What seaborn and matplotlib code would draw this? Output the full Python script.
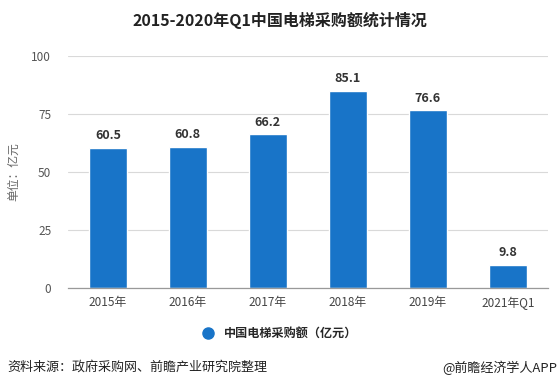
import numpy as np
import pandas as pd
import matplotlib
matplotlib.use("Agg")
import matplotlib.pyplot as plt
import seaborn as sns
from matplotlib.lines import Line2D

categories = ["2015年", "2016年", "2017年", "2018年", "2019年", "2021年Q1"]
values     = [60.5, 60.8, 66.2, 85.1, 76.6, 9.8]
yticks     = [0, 25, 50, 75, 100]
series     = "中国电梯采购额（亿元）"
BAR_COLOR  = "#1874C8"

sns.set_style("white")
plt.rcParams["font.family"] = ["Noto Sans CJK SC", "DejaVu Sans"]

df = pd.DataFrame({"year": categories, "value": values})

fig = plt.figure(figsize=(5.59, 3.87), dpi=100)
ax = fig.add_axes([0.1216, 0.2558, 0.8584, 0.5992])
sns.barplot(data=df, x="year", y="value", color=BAR_COLOR, width=0.475,
            saturation=1, ax=ax)

ax.set_xlim(-0.5, len(categories) - 0.5)
ax.set_ylim(0, 100)
ax.set_yticks(yticks)
ax.yaxis.grid(True, color="#d9d9d9", linewidth=0.8)
ax.set_axisbelow(True)
for s in ["top", "right", "left"]:
    ax.spines[s].set_visible(False)
ax.spines["bottom"].set_color("#999999")
ax.spines["bottom"].set_linewidth(0.9)
ax.tick_params(axis="x", length=4, color="#999999", labelsize=8.5,
               labelcolor="#444444", pad=2)
ax.tick_params(axis="y", length=0, labelsize=8.5, labelcolor="#555555", pad=12)
ax.set_xlabel("")
ax.set_ylabel("单位：亿元", fontsize=8.5, color="#666666", labelpad=8)

for i, v in enumerate(values):
    ax.text(i, v + 2.5, f"{v:.1f}", ha="center", va="bottom",
            fontsize=9, fontweight="bold", color="#333333")

fig.text(0.5, 0.948, "2015-2020年Q1中国电梯采购额统计情况", ha="center", va="center",
         fontsize=11.5, fontweight="bold", color="#222222")

handle = Line2D([], [], marker="o", linestyle="", markersize=8,
                markerfacecolor=BAR_COLOR, markeredgecolor=BAR_COLOR)
fig.legend([handle], [series], loc="center", bbox_to_anchor=(0.495, 0.138),
           frameon=False, handletextpad=0.3,
           prop={"weight": "bold", "size": 8.7})

fig.text(0.014, 0.050, "资料来源：政府采购网、前瞻产业研究院整理", ha="left", va="center",
         fontsize=9.4, color="#222222")
fig.text(0.997, 0.050, "@前瞻经济学人APP", ha="right", va="center",
         fontsize=9.4, color="#222222")

fig.savefig("out.png", dpi=100)
